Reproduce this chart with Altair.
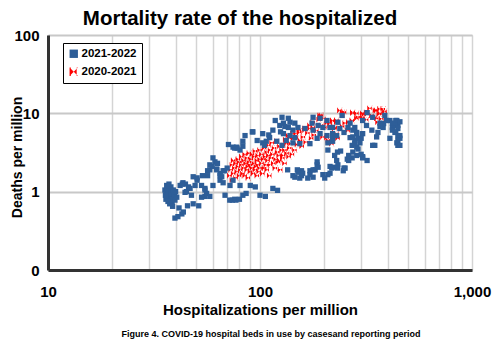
import altair as alt
import pandas as pd

# ---- data ----
series_names = ["2021-2022", "2020-2021"]
series_colors = ["#2E5E98", "#FF0000"]

blue_points = [
    (35.6,1.05),(36,0.95),(36.5,1.1),(37,0.9),(37,1.0),(37.6,0.85),(38,1.15),(38,0.95),(38.5,0.8),(39,1.05),
    (36,0.8),(36.8,0.75),(37.5,0.7),(38.5,0.72),(39.5,0.9),(40,1.0),(35.8,0.9),(36.3,1.2),(37.2,1.25),(38.7,0.65),
    (39.7,0.78),(40.5,0.85),(39.7,0.46),(41,0.48),(42.8,0.52),(43.5,0.55),(45.5,0.66),(48.4,0.70),(51.4,0.66),(41.5,0.62),
    (42,1.2),(43.3,1.3),(44.5,1.25),(46,1.15),(45,1.0),(48.4,1.55),(50.5,1.4),(53,1.2),(55,1.1),(56,0.95),
    (56.6,1.6),(58,1.9),(59.5,2.1),(61.3,2.4),(62.5,1.95),(64.8,1.4),(66,1.55),(64.8,1.7),(60,1.2),(55,0.87),
    (53,0.85),(58,0.87),(68.4,0.9),(74,0.78),(76,0.8),(71,4.0),(74.6,3.7),(77.5,3.7),(68,1.85),
    (92.6,5.8),(83,3.8),(76,3.6),(80.5,3.4),(60,2.7),(63,2.3),(58,2.2),(70,2.0),(67,1.85),(64.8,1.6),
    (62.5,1.9),(56.6,1.85),(53.5,1.6),(50.5,1.5),(49.4,1.2),(46.8,1.1),(44.3,0.98),(43,1.25),(47.5,0.9),(74.6,1.4),
    (72.2,1.2),(67,1.3),(80.5,1.2),(55,1.05),(83,0.9),
    (85,5.2),(92,5.8),(83,4.4),(78,3.6),(103,4.2),(107,4.4),(135,1.9),(150,1.9),(157,1.85),(172,1.85),
    (182,1.9),(186,2.2),(143,1.6),(157,1.6),(172,1.65),(198,1.65),(209,1.65),(214,2.1),(225,2.05),(115,1.1),
    (121,1.04),(100,0.9),(106,0.87),(86,0.95),(77,0.78),(80,0.8),(72,0.78),(90,1.2),(95,1.15),
    (127,8.9),(136,8.65),(129,7.5),(138.5,7.7),(146,7.5),(136,6.6),(143,6.1),(151,6.6),(129,5.5),(138.5,5.2),
    (146,4.9),(133,4.5),(143,4.2),(127,3.9),(154,4.1),(172,4.1),(178,8.9),(192,8.65),(207,8.1),(176,7.5),
    (188,7.0),(198,6.6),(214,6.6),(163,6.4),(178,6.1),(192,5.5),(207,5.2),(220,5.5),(186,4.8),(209,4.2),
    (220,4.8),(233,7.7),(238,6.4),(249,5.7),(260,6.6),(266,7.5),(274,6.1),(286,5.5),(266,4.9),(280,4.5),
    (272,3.9),(286,3.7),(274,3.2),(286,2.9),(272,2.7),(262,2.5),(305,2.7),(320,2.5),(209,3.4),(186,2.4),
    (188,2.05),(178,1.9),(230,2.5),(233,2.2),(218,2.0),(249,2.0),(214,1.72),(202,1.49),(168,1.49),(154,1.49),
    (146,1.53),(151,1.77),(159,1.72),(178,1.53),
    (410,8.1),(442,8.1),(447,7.0),(421,6.6),(433,5.7),(447,5.2),(457,4.8),(442,4.2),(447,3.9),(348,3.9),
    (368,7.5),(381,6.6),(318,7.0),(337,6.1),(305,5.5),(296,4.2),
    (437,8.1),(457,7.8),(433,7.0),(447,6.4),(437,5.8),(457,5.2),(447,4.5),(457,3.9),(421,7.5),(410,4.8),
    (421,6.1),(383,7.4),(368,6.8),(360,5.7),(355,5.0),(340,3.9),(305,2.8),(300,3.0),(280,6.6),(286,5.7),
    (274,5.0),(290,4.8),(280,4.1),(290,3.5),(262,2.9),(258,2.6),(300,4.8),(220,6.6),(230,5.2),(220,4.4),
    (232,3.2),(225,2.9),(240,3.3),(232,2.0),(252,2.0),(247,1.85),(244,9.4),(320,10.2),(340,8.9),(305,8.1),
    (388,9.4),(395,8.1),
    (103,5.5),(111,4.9),(97,4.5),(118,8.1),(124,7.0),(115,6.1),(110,5.3),(120,4.4),(125,5.8),(131,6.8),(105,3.9),
]

red_points = [
    (72,1.6),(73,1.9),(74,1.4),(74,2.2),(75,1.7),(75,2.5),(76,2.0),(77,1.5),(77,2.3),(78,1.8),
    (79,2.1),(79,2.6),(80,1.6),(80,2.4),(81,1.9),(82,2.2),(82,2.8),(83,1.7),(84,2.0),(84,2.5),
    (85,3.0),(85,1.6),(86,2.3),(87,1.9),(87,2.7),(88,2.1),(88,1.5),(89,2.4),(89,3.1),(90,1.8),
    (90,2.2),(91,2.6),(92,2.0),(92,3.0),(93,1.7),(94,2.3),(94,2.8),(95,1.9),(95,3.3),(96,2.1),
    (97,2.5),(97,1.6),(98,2.9),(98,2.2),(99,1.8),(100,2.6),(100,3.4),(100,2.0),(102,2.3),(102,3.0),
    (103,1.7),(104,2.6),(105,3.6),(105,2.0),(106,2.8),(107,2.2),(108,3.2),(108,1.9),(109,2.5),(110,3.9),
    (110,2.9),(111,1.6),(112,2.2),(112,3.4),(113,2.7),(114,4.2),(115,3.0),(116,2.3),(117,3.6),(118,2.0),
    (119,2.6),(120,4.4),(121,3.2),(122,2.4),(123,2.9),(124,3.8),(125,1.9),(127,3.4),(128,2.7),(129,3.9),
    (131,2.3),(132,4.6),(134,3.1),(136,5.2),(137,2.8),(138,3.6),(140,4.1),(142,3.0),(144,4.8),(146,3.4),
    (148,5.5),(150,4.0),(153,6.0),(155,4.5),(158,3.8),(160,5.0),(163,6.4),(165,4.3),(168,5.6),(172,6.4),
    (172,7.0),(175,4.8),(178,7.7),(180,5.3),(185,6.0),(190,8.3),(192,9.4),(195,7.0),(198,5.0),(200,8.6),
    (202,6.6),(207,7.5),(210,4.5),(214,7.0),(214,4.3),(220,8.0),(225,6.4),(230,5.5),(233,4.8),
    (195,9.4),(192,8.9),(245,10.3),(245,9.4),(286,10.0),(305,8.9),(320,10.0),(355,10.9),(368,11.4),(381,11.4),
    (388,10.0),(368,10.0),(355,8.6),(360,7.7),(348,8.9),(337,9.4),(318,10.3),(305,10.0),(286,8.6),(272,8.1),
    (262,7.7),(252,7.5),(274,10.0),(214,7.5),(230,8.1),(226,6.6),(178,6.6),(163,6.1),(154,5.7),(148,4.9),
    (143,5.5),(138,4.8),(133,4.1),(131,3.4),(129,2.9),(124,2.5),(207,4.9),(218,4.1),
    (238,10.9),(250,10.3),(274,10.3),(290,9.0),(310,9.6),(318,8.3),(330,11.6),(350,10.9),(365,9.8),(388,10.6),
    (375,8.5),(230,7.7),(245,6.8),(260,6.0),(220,8.1),
]

x_grid_values = [10, 20, 30, 40, 50, 60, 70, 80, 90, 100, 200, 300, 400, 500, 600, 700, 800, 900, 1000]
x_label_values = [10, 100, 1000]
y_tick_values = [0.1, 1, 10, 100]

title_text = "Mortality rate of the hospitalized"
x_title = "Hospitalizations per million"
y_title = "Deaths per million"
caption_text = "Figure 4. COVID-19 hospital beds in use by casesand reporting period"

# ---- table ----
rows = [{"hosp": x, "deaths": y, "period": series_names[1]} for x, y in red_points]
rows += [{"hosp": x, "deaths": y, "period": series_names[0]} for x, y in blue_points]
df = pd.DataFrame(rows)

bowtie = ("M-1,-1L0,0L-1,1Z M1,-1L0,0L1,1Z "
          "M-1,-1L-0.7,-1L-0.7,1L-1,1Z M0.7,-1L1,-1L1,1L0.7,1Z")

FONT = "Liberation Sans"

legend = alt.Legend(title=None, orient="none", legendX=15, legendY=8,
                    strokeColor="black", fillColor="white", padding=5,
                    labelFont=FONT, labelFontSize=11.5, labelFontWeight="bold",
                    labelColor="black", symbolSize=70, rowPadding=5, labelOffset=2,
                    symbolStrokeWidth=0)

points = alt.Chart(df).mark_point(filled=True, opacity=1).encode(
    x=alt.X("hosp:Q",
            scale=alt.Scale(type="log", domain=[10, 1000], nice=False),
            axis=alt.Axis(values=x_grid_values,
                          labelExpr="indexof([10,100,1000], datum.value) >= 0 ? format(datum.value, ',') : ''",
                          grid=True, gridColor="#d4d4d4", gridWidth=1.5,
                          ticks=False, domainColor="#333333", domainWidth=3,
                          labelFont=FONT, labelFontSize=15, labelFontWeight="bold", labelColor="black",
                          labelPadding=14, labelOverlap=False, labelFlush=False,
                          title=x_title, titleFont=FONT, titleFontSize=15, titleFontWeight="bold",
                          titleColor="black", titlePadding=3)),
    y=alt.Y("deaths:Q",
            scale=alt.Scale(type="log", domain=[0.1, 100], nice=False),
            axis=alt.Axis(values=y_tick_values,
                          labelExpr="datum.value < 1 ? '0' : format(datum.value, ',')",
                          grid=True, gridColor="#c8c8c8", gridWidth=2,
                          ticks=False, domainColor="#333333", domainWidth=3,
                          labelFont=FONT, labelFontSize=15, labelFontWeight="bold", labelColor="black",
                          labelPadding=9, labelOverlap=False, labelFlush=False,
                          title=y_title, titleFont=FONT, titleFontSize=14, titleFontWeight="bold",
                          titleColor="black", titleX=-31, titleY=122, titleAngle=270,
                          titleAlign="center", titleBaseline="middle")),
    color=alt.Color("period:N",
                    scale=alt.Scale(domain=series_names, range=series_colors),
                    legend=legend),
    shape=alt.Shape("period:N",
                    scale=alt.Scale(domain=series_names, range=["square", bowtie]),
                    legend=legend),
    size=alt.value(28),
)

caption = alt.Chart(pd.DataFrame({"t": [caption_text]})).mark_text(
    font=FONT, fontSize=9, fontWeight="bold", color="black", align="center", baseline="middle"
).encode(x=alt.value(223), y=alt.value(299), text="t:N")

chart = alt.layer(points, caption).properties(
    width=424, height=235,
    padding={"left": 48, "top": 35, "right": 28, "bottom": 83},
    autosize=alt.AutoSizeParams(type="none"),
    title=alt.TitleParams(title_text, font=FONT, fontSize=20.5, fontWeight="bold", color="black",
                          anchor="middle", dx=-20, offset=-1),
).configure_view(stroke="#333333", strokeWidth=3).configure(background="white")

chart.save("out.html", embed_options={"renderer": "svg", "actions": False})
